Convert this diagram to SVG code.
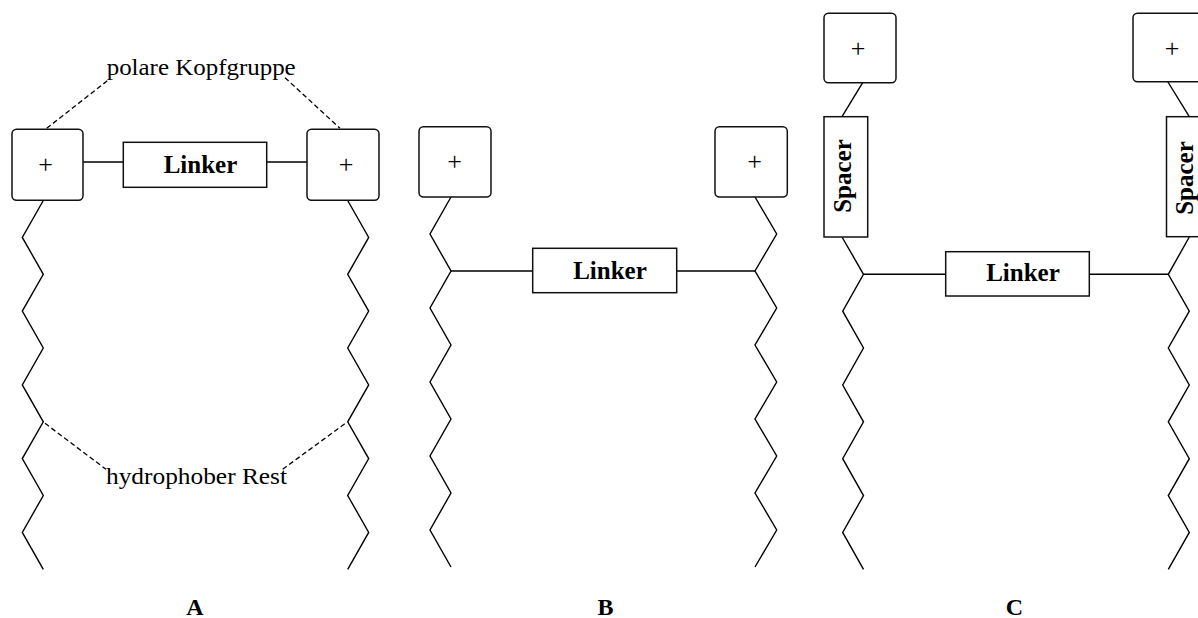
<svg xmlns="http://www.w3.org/2000/svg" width="1198" height="618" viewBox="0 0 1198 618">
<style>
.box{fill:#fff;stroke:#111;stroke-width:1.5}
.ln{fill:none;stroke:#000;stroke-width:1.4;stroke-linejoin:miter}
.dash{fill:none;stroke:#000;stroke-width:1.3;stroke-dasharray:5,3}
.plus{font-family:"Liberation Serif","Times New Roman",serif;font-size:26px;text-anchor:middle;fill:#000}
.bold{font-family:"Liberation Serif","Times New Roman",serif;font-size:25px;font-weight:bold;text-anchor:middle;fill:#000}
.lbl{font-family:"Liberation Serif","Times New Roman",serif;font-size:24px;fill:#000}
.cap{font-family:"Liberation Serif","Times New Roman",serif;font-size:24px;font-weight:bold;text-anchor:middle;fill:#000}
</style>
<rect width="1198" height="618" fill="#fff"/>
<g id="connectors">
<path class="ln" d="M83,162 H123 M267,162 H307"/>
<path class="ln" d="M43.3,200.5 L22.3,237.4 L43.3,274.3 L22.3,311.1 L43.3,348 L22.3,384.9 L43.3,421.8 L22.3,458.6 L43.3,495.5 L22.3,532.4 L43.3,569.3"/>
<path class="ln" d="M347.7,200.5 L368.7,237.4 L347.7,274.3 L368.7,311.1 L347.7,348 L368.7,384.9 L347.7,421.8 L368.7,458.6 L347.7,495.5 L368.7,532.4 L347.7,569.3"/>
<path class="dash" d="M46.7,128.3 L108.3,80 M285,77.7 L340,128.3"/>
<path class="dash" d="M45,423.3 L106,469.3 M282.7,469.3 L346.7,422.3"/>
<path class="ln" d="M451,271 H533 M677,271 H755"/>
<path class="ln" d="M451,197 L430,234 L451,271 L430,308 L451,345 L430,382 L451,419 L430,456 L451,493 L430,530 L451,567"/>
<path class="ln" d="M755,197 L776.7,234 L755,271 L776.7,308 L755,345 L776.7,382 L755,419 L776.7,456 L755,493 L776.7,530 L755,567"/>
<path class="ln" d="M863.5,274.3 H946 M1089,274.3 H1168.3"/>
<path class="ln" d="M862.7,82.7 L842,116.7"/>
<path class="ln" d="M842,237 L863.5,274.3 L842.7,311.2 L863.5,348 L842.7,385 L863.5,421.8 L842.7,458.7 L863.5,495.6 L842.7,532.4 L863.5,569.3"/>
<path class="ln" d="M1166.7,80 L1189.3,116.7"/>
<path class="ln" d="M1189.3,237 L1168.3,274.3 L1189.3,311.2 L1168.3,348 L1189.3,385 L1168.3,421.8 L1189.3,458.7 L1168.3,495.6 L1189.3,532.4 L1168.3,569.3"/>
</g>
<g id="A-head-left"><rect class="box" x="12" y="129.3" width="71" height="71" rx="4.5"/><text class="plus" x="45.5" y="173">+</text></g>
<g id="A-head-right"><rect class="box" x="307" y="129.3" width="72" height="71" rx="4.5"/><text class="plus" x="346" y="173">+</text></g>
<g id="A-linker"><rect class="box" x="123.3" y="142.3" width="143.4" height="45"/><text class="bold" x="200.5" y="173.3">Linker</text></g>
<g id="A-labels">
<text class="lbl" x="106.7" y="75" textLength="189" lengthAdjust="spacingAndGlyphs">polare Kopfgruppe</text>
<text class="lbl" x="106" y="483.5" textLength="181" lengthAdjust="spacingAndGlyphs">hydrophober Rest</text>
<text class="cap" x="195" y="615">A</text>
</g>
<g id="B-head-left"><rect class="box" x="419" y="126.7" width="72" height="70.3" rx="4.5"/><text class="plus" x="454.5" y="170">+</text></g>
<g id="B-head-right"><rect class="box" x="715" y="126.7" width="72.3" height="70.3" rx="4.5"/><text class="plus" x="754.5" y="170">+</text></g>
<g id="B-linker"><rect class="box" x="532.7" y="248.3" width="144" height="44.4"/><text class="bold" x="610" y="279">Linker</text></g>
<g id="B-label"><text class="cap" x="605.5" y="615">B</text></g>
<g id="C-head-left"><rect class="box" x="824" y="13.3" width="72" height="69.4" rx="4.5"/><text class="plus" x="858" y="57">+</text></g>
<g id="C-head-right"><rect class="box" x="1133" y="13.3" width="72" height="68.4" rx="4.5"/><text class="plus" x="1172" y="57">+</text></g>
<g id="C-spacer-left"><rect class="box" x="824" y="116.7" width="43.7" height="120.3"/><text class="bold" transform="translate(851,176) rotate(-90)">Spacer</text></g>
<g id="C-spacer-right"><rect class="box" x="1166.5" y="116.7" width="44" height="120"/><text class="bold" transform="translate(1193,178) rotate(-90)">Spacer</text></g>
<g id="C-linker"><rect class="box" x="945.7" y="251.7" width="143.6" height="44.3"/><text class="bold" x="1023" y="281">Linker</text></g>
<g id="C-label"><text class="cap" x="1014.4" y="615">C</text></g>
</svg>
